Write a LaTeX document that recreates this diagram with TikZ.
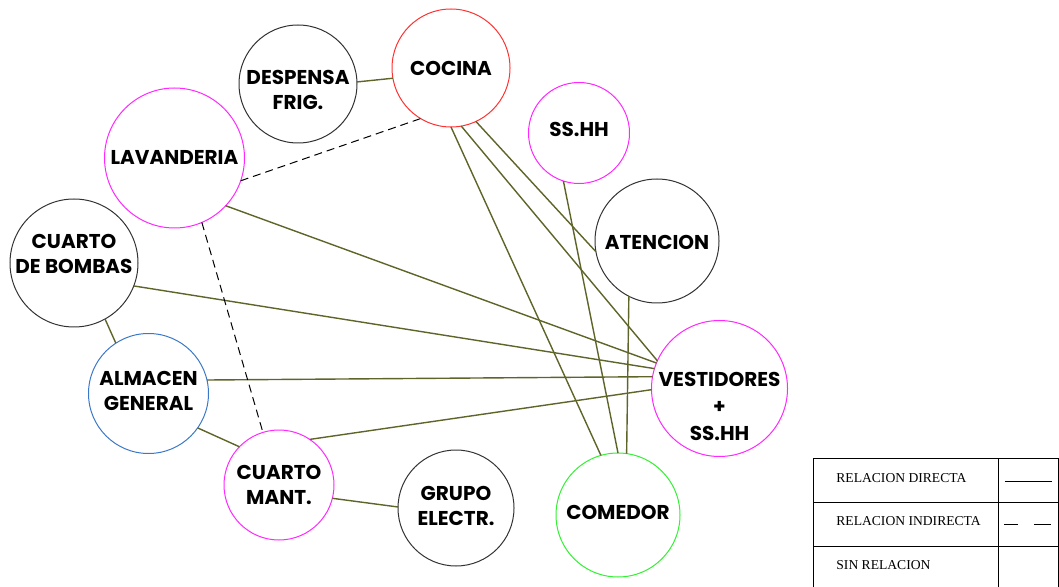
\documentclass[tikz,border=0pt]{standalone}
\usepackage{fontspec}
\setmainfont{Poppins}
\newfontfamily\legendfont{Liberation Serif}
\definecolor{linkolive}{RGB}{95,100,40}
\definecolor{cocred}{RGB}{255,50,50}
\definecolor{roommag}{RGB}{255,40,255}
\definecolor{almblue}{RGB}{60,120,200}
\definecolor{comgreen}{RGB}{50,240,50}
\definecolor{roomgray}{RGB}{50,50,50}
\tikzset{
  room/.style={circle, draw=#1, line width=0.5pt, inner sep=0pt, outer sep=0pt},
  room/.default=roomgray,
  roomtext/.style={font=\fontsize{10}{12.5}\selectfont\bfseries, align=center, inner sep=0pt},
  direct/.style={draw=linkolive, line width=0.7pt},
  indirect/.style={draw=black, line width=0.5pt, dash pattern=on 4pt off 2.5pt},
  legendtext/.style={font=\legendfont\fontsize{6.8}{8}\selectfont, anchor=west, inner sep=0pt},
}
\begin{document}
\begin{tikzpicture}[x=0.5pt,y=-0.5pt]
\useasboundingbox (0,0) rectangle (1059,587);

% circles
\node[room=cocred, minimum size=59pt] (coc) at (451,68) {};
\node[room, minimum size=59pt] (desp) at (298,84) {};
\node[room=roommag, minimum size=70pt] (lav) at (174.5,158) {};
\node[room=roommag, minimum size=50.5pt] (ss) at (579,133) {};
\node[room, minimum size=62pt] (aten) at (657,241) {};
\node[room, minimum size=64pt] (bomb) at (74,263) {};
\node[room=almblue, minimum size=60pt] (alm) at (148.5,393.5) {};
\node[room=roommag, minimum size=55pt] (mant) at (279,485) {};
\node[room, minimum size=58pt] (grupo) at (456,508) {};
\node[room=roommag, minimum size=68pt] (vest) at (719.5,388.5) {};
\node[room=comgreen, minimum size=62pt] (com) at (618,515) {};

% texts
\node[roomtext] (cocT) at (451,68) {COCINA};
\node[roomtext] (despT) at (298,90) {DESPENSA\\FRIG.};
\node[roomtext] (lavT) at (174.5,157) {LAVANDERIA};
\node[roomtext] (ssT) at (579,129) {SS.HH};
\node[roomtext] (atenT) at (657,242.5) {ATENCION};
\node[roomtext] (bombT) at (74,254) {CUARTO\\DE BOMBAS};
\node[roomtext] (almT) at (148.5,391) {ALMACEN\\GENERAL};
\node[roomtext] (mantT) at (279,485) {CUARTO\\MANT.};
\node[roomtext] (grupoT) at (456,506) {GRUPO\\ELECTR.};
\node[roomtext] (vestT) at (719.5,406) {VESTIDORES\\[1pt]+\\[1pt]SS.HH};
\node[roomtext] (comT) at (618,512) {COMEDOR};

% relacion directa
\draw[direct] (desp.2) -- (coc.190);
\draw[direct] (coc.-90) -- (com.106);
\draw[direct] (coc.-80) -- (vest.156);
\draw[direct] (coc.-65) -- (aten.190);
\draw[direct] (ss.252) -- (com.90);
\draw[direct] (aten.243) -- (com.82);
\draw[direct] (lav.-43) -- (vest.158);
\draw[direct] (bomb.-21.5) -- (vest.163);
\draw[direct] (alm.13) -- (vest.170);
\draw[direct] (mant.56) -- (vest.181);
\draw[direct] (bomb.-61.5) -- (alm.123.6);
\draw[direct] (alm.-35.6) -- (mant.136.5);
\draw[direct] (mant.-14.8) -- (grupo.179);

% relacion indirecta
\draw[indirect] (lav.-19) -- (coc.239);
\draw[indirect] (lav.-67) -- (mant.107.5);

% leyenda
\draw[line width=0.5pt] (813,458) rectangle (1058.5,587);
\draw[line width=0.5pt] (998,458) -- (998,587);
\draw[line width=0.5pt] (813,502) -- (1058.5,502);
\draw[line width=0.5pt] (813,546) -- (1058.5,546);
\node[legendtext] (legDir) at (836,478) {RELACION DIRECTA};
\node[legendtext] (legInd) at (836,521) {RELACION INDIRECTA};
\node[legendtext] (legSin) at (836,565) {SIN RELACION};
\draw[line width=0.5pt] (1005,481) -- (1052,481);
\draw[line width=0.5pt] (1004,524) -- (1018,524);
\draw[line width=0.5pt] (1034,524) -- (1051,524);
\end{tikzpicture}
\end{document}
